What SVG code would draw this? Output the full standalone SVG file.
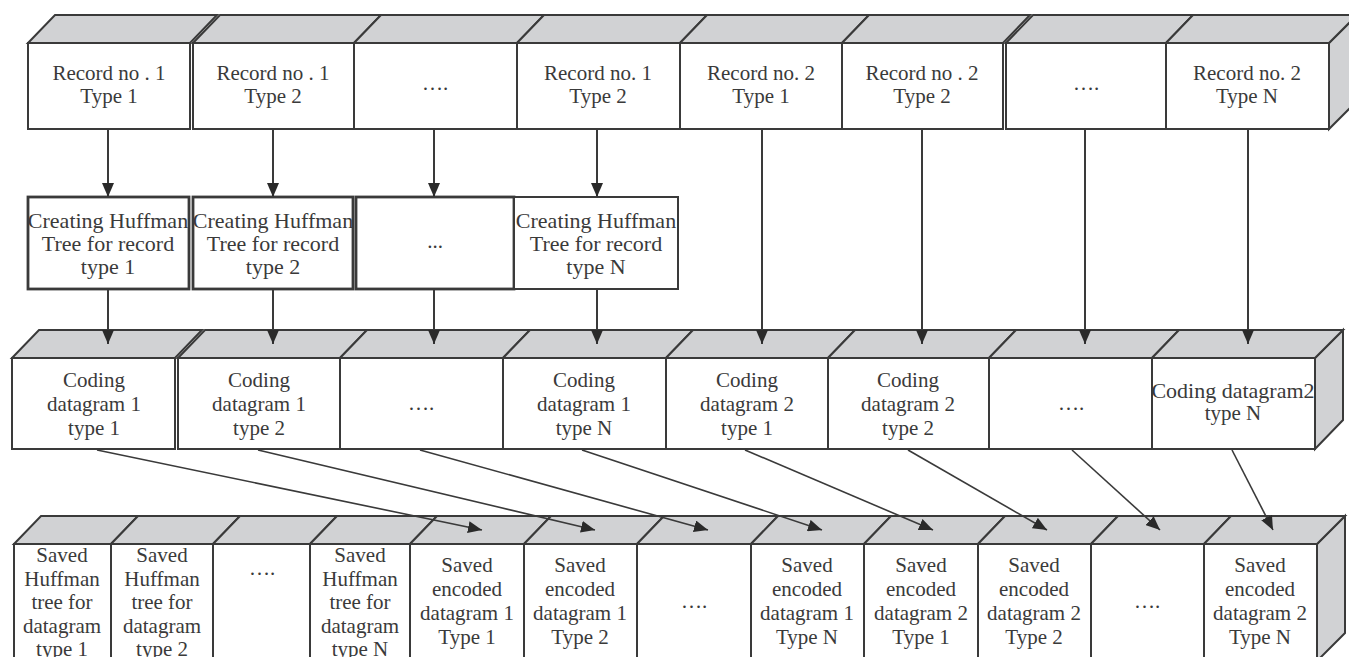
<svg xmlns="http://www.w3.org/2000/svg" width="1349" height="657" viewBox="0 0 1349 657">
<style>
.face{fill:#d1d2d4;stroke:#3a3a3a;stroke-width:2;stroke-linejoin:miter}
.front{fill:#fff;stroke:#3a3a3a;stroke-width:2}
.dbl{fill:#fff;stroke:#3a3a3a;stroke-width:2.8}
text{font-family:"Liberation Serif","Times New Roman",serif;font-size:21px;fill:#3a3a3a;text-anchor:middle}
.big{font-size:22px}
.c line{stroke:#3a3a3a;stroke-width:2;marker-end:url(#ah)}
.c .d{stroke-width:1.6}
</style>
<defs>
<marker id="ah" viewBox="0 0 14 12" refX="14" refY="6" markerWidth="14" markerHeight="12" markerUnits="userSpaceOnUse" orient="auto">
<path d="M0,0 L14,6 L0,12 z" fill="#2a2a2a"/>
</marker>
</defs>
<rect width="1349" height="657" fill="#fff"/>

<!-- Top row: records -->
<g id="row-records">
<polygon class="face" points="1329,43 1357,15 1357,101 1329,129"/>
<g id="r1"><polygon class="face" points="28,43 55,15 217,15 190,43"/><rect class="front" x="28" y="43" width="162" height="86"/><text x="109" y="80">Record no . 1</text><text x="109" y="103">Type 1</text></g>
<g id="r2"><polygon class="face" points="193,43 220,15 381,15 354,43"/><rect class="front" x="193" y="43" width="161" height="86"/><text x="273" y="80">Record no . 1</text><text x="273" y="103">Type 2</text></g>
<g id="r3"><polygon class="face" points="354,43 381,15 544,15 517,43"/><rect class="front" x="354" y="43" width="163" height="86"/><text x="435" y="90">….</text></g>
<g id="r4"><polygon class="face" points="517,43 544,15 707,15 680,43"/><rect class="front" x="517" y="43" width="163" height="86"/><text x="598" y="80">Record no. 1</text><text x="598" y="103">Type 2</text></g>
<g id="r5"><polygon class="face" points="680,43 707,15 869,15 842,43"/><rect class="front" x="680" y="43" width="162" height="86"/><text x="761" y="80">Record no. 2</text><text x="761" y="103">Type 1</text></g>
<g id="r6"><polygon class="face" points="842,43 869,15 1030,15 1003,43"/><rect class="front" x="842" y="43" width="161" height="86"/><text x="922" y="80">Record no . 2</text><text x="922" y="103">Type 2</text></g>
<g id="r7"><polygon class="face" points="1006,43 1033,15 1193,15 1166,43"/><rect class="front" x="1006" y="43" width="160" height="86"/><text x="1086" y="90">….</text></g>
<g id="r8"><polygon class="face" points="1166,43 1193,15 1357,15 1329,43"/><rect class="front" x="1166" y="43" width="163" height="86"/><text x="1247" y="80">Record no. 2</text><text x="1247" y="103">Type N</text></g>
</g>

<!-- Huffman tree row -->
<g id="row-huffman">
<g id="h1"><rect class="dbl" x="28" y="197" width="161" height="92"/><text class="big" x="108" y="228">Creating Huffman</text><text class="big" x="108" y="251">Tree for record</text><text class="big" x="108" y="274">type 1</text></g>
<g id="h2"><rect class="dbl" x="193" y="197" width="160" height="92"/><text class="big" x="273" y="228">Creating Huffman</text><text class="big" x="273" y="251">Tree for record</text><text class="big" x="273" y="274">type 2</text></g>
<g id="h3"><rect class="dbl" x="356" y="197" width="158" height="92"/><text x="435" y="248">...</text></g>
<g id="h4"><rect class="front" x="514" y="197" width="164" height="92"/><text class="big" x="596" y="228">Creating Huffman</text><text class="big" x="596" y="251">Tree for record</text><text class="big" x="596" y="274">type N</text></g>
</g>

<!-- Coding row -->
<g id="row-coding">
<polygon class="face" points="1315,358 1343,330 1343,420 1315,449"/>
<g id="c1"><polygon class="face" points="12,358 39,330 202,330 175,358"/><rect class="front" x="12" y="358" width="163" height="91"/><text x="94" y="387">Coding</text><text x="94" y="411">datagram 1</text><text x="94" y="435">type 1</text></g>
<g id="c2"><polygon class="face" points="178,358 205,330 367,330 340,358"/><rect class="front" x="178" y="358" width="162" height="91"/><text x="259" y="387">Coding</text><text x="259" y="411">datagram 1</text><text x="259" y="435">type 2</text></g>
<g id="c3"><polygon class="face" points="340,358 367,330 530,330 503,358"/><rect class="front" x="340" y="358" width="163" height="91"/><text x="421" y="410">….</text></g>
<g id="c4"><polygon class="face" points="503,358 530,330 693,330 666,358"/><rect class="front" x="503" y="358" width="163" height="91"/><text x="584" y="387">Coding</text><text x="584" y="411">datagram 1</text><text x="584" y="435">type N</text></g>
<g id="c5"><polygon class="face" points="666,358 693,330 855,330 828,358"/><rect class="front" x="666" y="358" width="162" height="91"/><text x="747" y="387">Coding</text><text x="747" y="411">datagram 2</text><text x="747" y="435">type 1</text></g>
<g id="c6"><polygon class="face" points="828,358 855,330 1016,330 989,358"/><rect class="front" x="828" y="358" width="161" height="91"/><text x="908" y="387">Coding</text><text x="908" y="411">datagram 2</text><text x="908" y="435">type 2</text></g>
<g id="c7"><polygon class="face" points="989,358 1016,330 1179,330 1152,358"/><rect class="front" x="989" y="358" width="163" height="91"/><text x="1071" y="410">….</text></g>
<g id="c8"><polygon class="face" points="1152,358 1179,330 1343,330 1315,358"/><rect class="front" x="1152" y="358" width="163" height="91"/><text class="big" x="1233" y="398">Coding datagram2</text><text x="1233" y="420">type N</text></g>
</g>

<!-- Saved row -->
<g id="row-saved">
<polygon class="face" points="1317,544 1345,516 1345,633 1317,661"/>
<g id="s1"><polygon class="face" points="14,544 41,516 138,516 111,544"/><rect class="front" x="14" y="544" width="97" height="120"/><text x="62" y="562">Saved</text><text x="62" y="586">Huffman</text><text x="62" y="609">tree for</text><text x="62" y="633">datagram</text><text x="62" y="656">type 1</text></g>
<g id="s2"><polygon class="face" points="111,544 138,516 240,516 213,544"/><rect class="front" x="111" y="544" width="102" height="120"/><text x="162" y="562">Saved</text><text x="162" y="586">Huffman</text><text x="162" y="609">tree for</text><text x="162" y="633">datagram</text><text x="162" y="656">type 2</text></g>
<g id="s3"><polygon class="face" points="213,544 240,516 337,516 310,544"/><rect class="front" x="213" y="544" width="97" height="120"/><text x="262" y="575">….</text></g>
<g id="s4"><polygon class="face" points="310,544 337,516 437,516 410,544"/><rect class="front" x="310" y="544" width="100" height="120"/><text x="360" y="562">Saved</text><text x="360" y="586">Huffman</text><text x="360" y="609">tree for</text><text x="360" y="633">datagram</text><text x="360" y="656">type N</text></g>
<g id="s5"><polygon class="face" points="410,544 437,516 551,516 524,544"/><rect class="front" x="410" y="544" width="114" height="120"/><text x="467" y="572">Saved</text><text x="467" y="596">encoded</text><text x="467" y="620">datagram 1</text><text x="467" y="644">Type 1</text></g>
<g id="s6"><polygon class="face" points="524,544 551,516 664,516 637,544"/><rect class="front" x="524" y="544" width="113" height="120"/><text x="580" y="572">Saved</text><text x="580" y="596">encoded</text><text x="580" y="620">datagram 1</text><text x="580" y="644">Type 2</text></g>
<g id="s7"><polygon class="face" points="637,544 664,516 778,516 751,544"/><rect class="front" x="637" y="544" width="114" height="120"/><text x="694" y="608">….</text></g>
<g id="s8"><polygon class="face" points="751,544 778,516 891,516 864,544"/><rect class="front" x="751" y="544" width="113" height="120"/><text x="807" y="572">Saved</text><text x="807" y="596">encoded</text><text x="807" y="620">datagram 1</text><text x="807" y="644">Type N</text></g>
<g id="s9"><polygon class="face" points="864,544 891,516 1005,516 978,544"/><rect class="front" x="864" y="544" width="114" height="120"/><text x="921" y="572">Saved</text><text x="921" y="596">encoded</text><text x="921" y="620">datagram 2</text><text x="921" y="644">Type 1</text></g>
<g id="s10"><polygon class="face" points="978,544 1005,516 1118,516 1091,544"/><rect class="front" x="978" y="544" width="113" height="120"/><text x="1034" y="572">Saved</text><text x="1034" y="596">encoded</text><text x="1034" y="620">datagram 2</text><text x="1034" y="644">Type 2</text></g>
<g id="s11"><polygon class="face" points="1091,544 1118,516 1231,516 1204,544"/><rect class="front" x="1091" y="544" width="113" height="120"/><text x="1147" y="608">….</text></g>
<g id="s12"><polygon class="face" points="1204,544 1231,516 1345,516 1317,544"/><rect class="front" x="1204" y="544" width="113" height="120"/><text x="1260" y="572">Saved</text><text x="1260" y="596">encoded</text><text x="1260" y="620">datagram 2</text><text x="1260" y="644">Type N</text></g>
</g>

<!-- Connectors -->
<g id="connectors" class="c">
<line x1="108" y1="129" x2="108" y2="197"/>
<line x1="273" y1="129" x2="273" y2="197"/>
<line x1="434" y1="129" x2="434" y2="197"/>
<line x1="597" y1="129" x2="597" y2="197"/>
<line x1="108" y1="289" x2="108" y2="344"/>
<line x1="273" y1="289" x2="273" y2="344"/>
<line x1="434" y1="289" x2="434" y2="344"/>
<line x1="597" y1="289" x2="597" y2="344"/>
<line x1="762" y1="129" x2="762" y2="344"/>
<line x1="922" y1="129" x2="922" y2="344"/>
<line x1="1085" y1="129" x2="1085" y2="344"/>
<line x1="1248" y1="129" x2="1248" y2="344"/>
<line class="d" x1="97" y1="450" x2="482" y2="530"/>
<line class="d" x1="258" y1="450" x2="595" y2="530"/>
<line class="d" x1="420" y1="450" x2="708" y2="530"/>
<line class="d" x1="582" y1="450" x2="822" y2="530"/>
<line class="d" x1="745" y1="450" x2="933" y2="530"/>
<line class="d" x1="908" y1="450" x2="1047" y2="530"/>
<line class="d" x1="1072" y1="450" x2="1160" y2="530"/>
<line class="d" x1="1232" y1="450" x2="1273" y2="530"/>
</g>
</svg>
